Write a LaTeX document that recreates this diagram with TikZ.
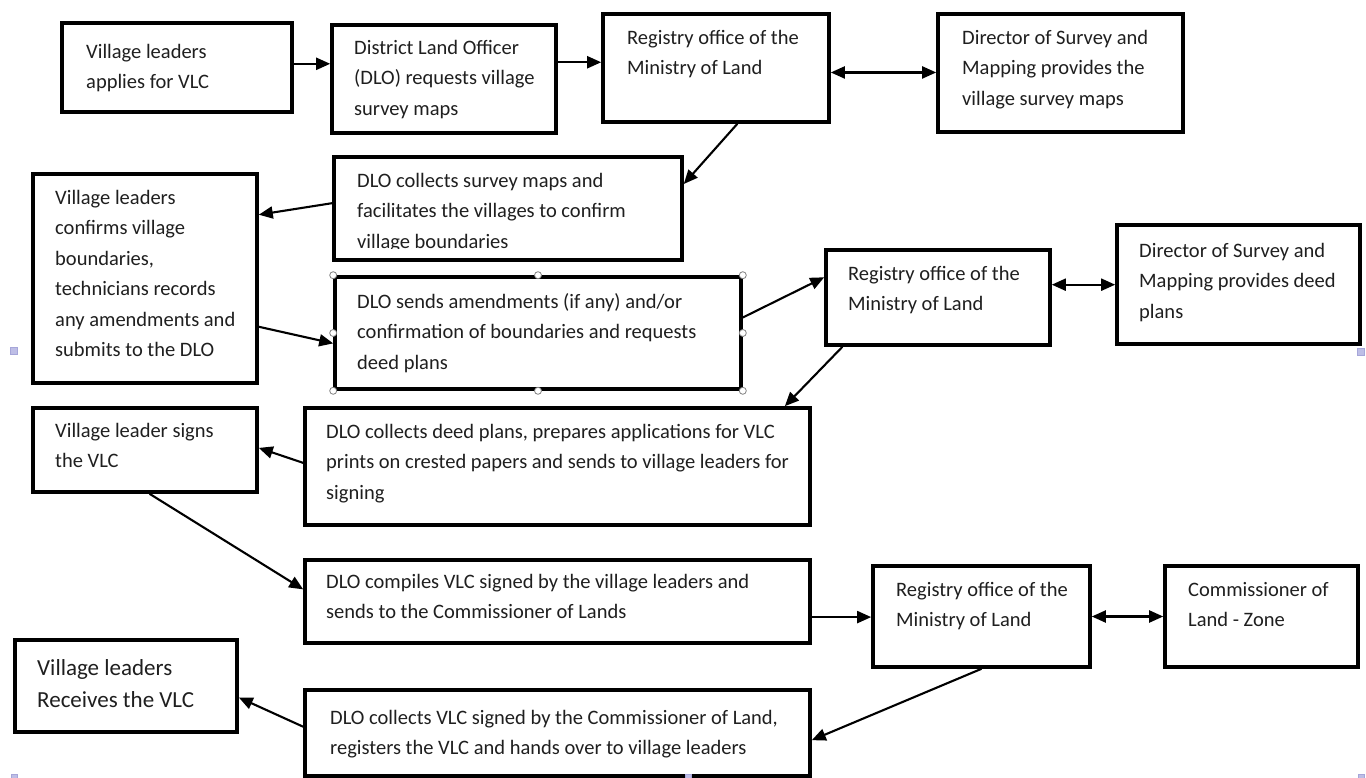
\documentclass[tikz,border=0pt]{standalone}
\usepackage{fontspec}
\setmainfont{Carlito}
\usetikzlibrary{arrows.meta,calc}
\newcommand\mkbox[5]{\node[box, minimum width={#4-#2}, minimum height={#5-#3}] (#1) at ({(#2+#4)/2},{(#3+#5)/2}) {};}
\tikzset{
  box/.style={draw=black, line width=3.6pt, inner sep=0pt, fill=white},
  txt/.style={anchor=north west, inner sep=0pt, align=left, font=\fontsize{20.5}{30.5}\selectfont, text=black!88},
  arr/.style={line width=2.1pt, -{Triangle[length=14pt,width=12pt]}},
  darr/.style={line width=2.1pt, {Triangle[length=14pt,width=12pt]}-{Triangle[length=14pt,width=12pt]}},
  handle/.style={circle, draw=gray, fill=white, line width=0.8pt, inner sep=0pt, minimum size=7pt},
  sel/.style={fill=gray!55!blue!35, draw=gray!60!blue!50, line width=0.5pt}
}
\begin{document}
\begin{tikzpicture}[x=1pt,y=-1pt]
\useasboundingbox[fill=white] (0,0) rectangle (1366,778);
% boxes
\mkbox{b1}{62}{23}{292}{112}
\mkbox{b2}{332}{25}{556}{133}
\mkbox{b3}{603}{14}{829}{122}
\mkbox{b4}{938}{14}{1183}{132}
\mkbox{b5}{334}{157}{682}{260}
\mkbox{b6}{33}{174}{257}{383}
\mkbox{b7}{335}{277}{741}{389}
\mkbox{b8}{826}{250}{1050}{345}
\mkbox{b9}{1117}{225}{1360}{344}
\mkbox{b10}{305}{408}{810}{525}
\mkbox{b11}{33}{408}{257}{492}
\mkbox{b12}{305}{560}{810}{643}
\mkbox{b13}{873}{566}{1090}{667}
\mkbox{b14}{1165}{566}{1358}{667}
\mkbox{b15}{15}{640}{237}{732}
\mkbox{b16}{305}{690}{810}{776}
% texts
\node[txt] (t1) at (86,44) {Village leaders\\applies for VLC};
\node[txt] (t2) at (354,40) {District Land Officer\\(DLO) requests village\\survey maps};
\node[txt] (t3) at (627,30) {Registry office of the\\Ministry of Land};
\node[txt] (t4) at (962,30) {Director of Survey and\\Mapping provides the\\village survey maps};
\begin{scope}
\clip (336,160) rectangle (680,249);
\node[txt] (t5) at (357,173) {DLO collects survey maps and\\facilitates the villages to confirm\\village boundaries};
\end{scope}
\node[txt] (t6) at (55,190) {Village leaders\\confirms village\\boundaries,\\technicians records\\any amendments and\\submits to the DLO};
\node[txt] (t7) at (357,293) {DLO sends amendments (if any) and/or\\confirmation of boundaries and requests\\deed plans};
\node[txt] (t8) at (848,266) {Registry office of the\\Ministry of Land};
\node[txt] (t9) at (1139,243) {Director of Survey and\\Mapping provides deed\\plans};
\node[txt] (t10) at (326,424) {DLO collects deed plans, prepares applications for VLC\\prints on crested papers and sends to village leaders for\\signing};
\node[txt] (t11) at (55,423) {Village leader signs\\the VLC};
\node[txt] (t12) at (326,574) {DLO compiles VLC signed by the village leaders and\\sends to the Commissioner of Lands};
\node[txt] (t13) at (896,582) {Registry office of the\\Ministry of Land};
\node[txt] (t14) at (1188,582) {Commissioner of\\Land - Zone};
\node[txt, font=\fontsize{23}{32}\selectfont] (t15) at (37,659) {Village leaders\\Receives the VLC};
\node[txt] (t16) at (330,710) {DLO collects VLC signed by the Commissioner of Land,\\registers the VLC and hands over to village leaders};
% selection handles on b7
\foreach \a in {north west,north,north east,west,east,south west,south,south east}
  \node[handle] at (b7.\a) {};
\node[sel, minimum size=7pt, inner sep=0pt] (s1) at (14,351) {};
\node[sel, minimum size=7pt, inner sep=0pt] (s2) at (1361,352) {};
\node[sel, minimum size=6pt, inner sep=0pt] (s3) at (14,777) {};
\node[sel, minimum size=6pt, inner sep=0pt] (s4) at (688,777) {};
\node[sel, minimum size=6pt, inner sep=0pt] (s5) at (1361,777) {};
% connectors
\coordinate (p1) at ($(b1.north east)!0.46!(b1.south east)$);
\draw[arr] (p1) -- (p1 -| b2.west);
\coordinate (p2) at ($(b2.north east)!0.35!(b2.south east)$);
\draw[arr] (p2) -- (p2 -| b3.west);
\coordinate (p3) at ($(b3.north east)!0.54!(b3.south east)$);
\draw[darr] (p3) -- (p3 -| b4.west);
\draw[arr] ($(b3.south west)!0.593!(b3.south east)$) -- ($(b5.north east)!0.27!(b5.south east)$);
\draw[arr] ($(b5.north west)!0.45!(b5.south west)$) -- ($(b6.north east)!0.2!(b6.south east)$);
\draw[arr] ($(b6.north east)!0.727!(b6.south east)$) -- ($(b7.north west)!0.59!(b7.south west)$);
\draw[arr] ($(b7.north east)!0.366!(b7.south east)$) -- ($(b8.north west)!0.295!(b8.south west)$);
\coordinate (p8) at ($(b8.north east)!0.37!(b8.south east)$);
\draw[darr] (p8) -- (p8 -| b9.west);
\draw[arr] ($(b8.south west)!0.08!(b8.south east)$) -- ($(b10.north west)!0.947!(b10.north east)$);
\draw[arr] ($(b10.north west)!0.47!(b10.south west)$) -- ($(b11.north east)!0.476!(b11.south east)$);
\draw[arr] ($(b11.south west)!0.52!(b11.south east)$) -- ($(b12.north west)!0.36!(b12.south west)$);
\coordinate (p12) at ($(b12.north east)!0.68!(b12.south east)$);
\draw[arr] (p12) -- (p12 -| b13.west);
\coordinate (p13) at ($(b13.north east)!0.5!(b13.south east)$);
\draw[darr] (p13) -- (p13 -| b14.west);
\draw[arr] ($(b13.south west)!0.5!(b13.south east)$) -- ($(b16.north east)!0.58!(b16.south east)$);
\draw[arr] ($(b16.north west)!0.43!(b16.south west)$) -- ($(b15.north east)!0.62!(b15.south east)$);
\end{tikzpicture}
\end{document}
